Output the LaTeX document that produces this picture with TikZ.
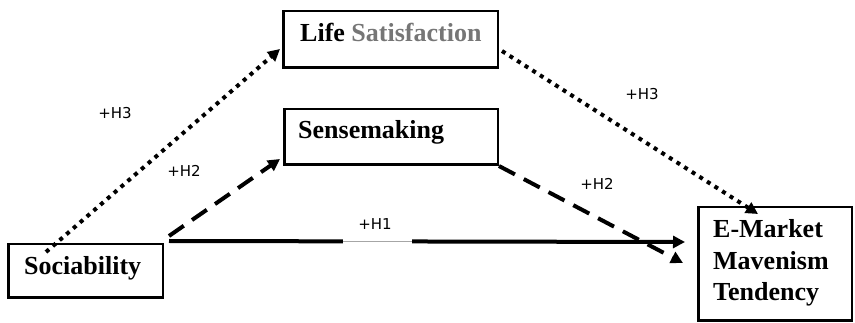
\documentclass[tikz,border=0pt]{standalone}
\usepackage{fontspec}
\setmainfont{Liberation Serif}
\newfontfamily\lblfont{DejaVu Sans}
\usetikzlibrary{arrows.meta,calc}
\definecolor{satgray}{RGB}{118,118,118}
\begin{document}
\begin{tikzpicture}[x=1pt,y=-1pt,
  box/.style={draw,line width=2.5pt,inner sep=0pt},
  txt/.style={font=\bfseries\fontsize{26}{31.5}\selectfont,inner sep=0pt,anchor=base west,align=left},
  lbl/.style={font=\lblfont\fontsize{15}{18}\selectfont,inner sep=0pt},
  tip/.style={-{Triangle[length=12pt,width=12pt]}},
  dotline/.style={tip,line width=4pt,dash pattern=on 4pt off 5pt},
  dashline/.style={tip,line width=4pt,dash pattern=on 18pt off 10pt},
  solidline/.style={tip,line width=4pt}]
\useasboundingbox (0,0) rectangle (855,323);
% boxes
\node[box,minimum width=154.5pt,minimum height=53.5pt] (soc) at (85.5,271) {};
\node[box,minimum width=214.5pt,minimum height=56.5pt] (life) at (390.5,39.5) {};
\node[box,minimum width=213.5pt,minimum height=55.5pt] (sense) at (391,137) {};
\node[box,minimum width=153.5pt,minimum height=113.5pt] (emm) at (775,264) {};
% texts
\node[txt] (soct) at (24,275) {Sociability};
\node[txt] (lifet) at (300,42) {Life {\color{satgray}Satisfaction}};
\node[txt] (senset) at (298,139) {Sensemaking};
\node[txt] (emmt) at (713,301) {E-Market\\Mavenism\\Tendency};
% connectors
\coordinate (h3s) at ([xshift=39pt,yshift=-9pt]soc.north west);
\draw[dotline] (h3s) -- ([xshift=-2pt,yshift=20pt]life.south west);
\draw[dotline] ([xshift=3pt,yshift=18pt]life.south east) -- ([xshift=61pt,yshift=-8pt]emm.north west);
\draw[dashline] ([xshift=5pt,yshift=7pt]soc.north east) -- ([xshift=-3pt,yshift=7pt]sense.south west);
\draw[dashline] (sense.south east) -- ([xshift=-14pt,yshift=1pt]emm.west);
\draw[solidline] ([xshift=5pt,yshift=2pt]soc.north east) -- ([xshift=-12pt,yshift=22pt]emm.west);
% gap in H1 path
\coordinate (g1) at (343,242);
\coordinate (g2) at (412,242);
\draw[white,line width=5.5pt] (g1) -- (g2);
\draw[gray!70,line width=1pt] (g1) -- (g2);
% labels
\node[lbl] (l3a) at (115,113) {+H3};
\node[lbl] (l2a) at (184,171) {+H2};
\node[lbl] (l3b) at (642,94) {+H3};
\node[lbl] (l2b) at (597,184) {+H2};
\node[lbl] (l1) at (375,224) {+H1};
\end{tikzpicture}
\end{document}
